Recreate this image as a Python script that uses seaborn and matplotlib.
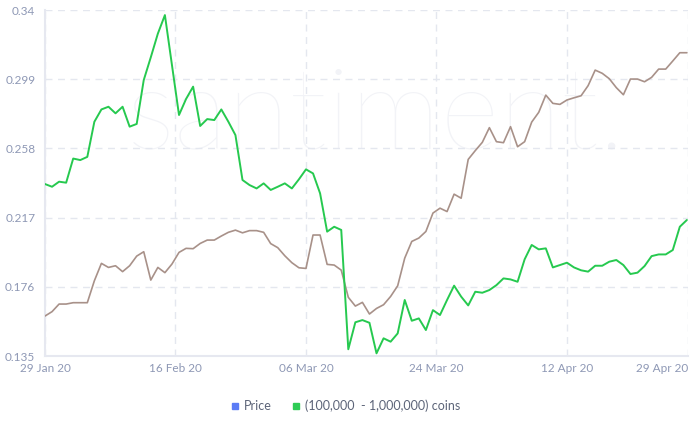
import numpy as np
import pandas as pd
import matplotlib
matplotlib.use("Agg")
import matplotlib.pyplot as plt
import matplotlib.dates as mdates
from matplotlib.lines import Line2D
import seaborn as sns

# ---------------- data ----------------
start_date = "2020-01-29"
price = [0.1587, 0.1613, 0.1658, 0.1658, 0.1666, 0.1666, 0.1666, 0.1796, 0.1899, 0.1875,
         0.1885, 0.1850, 0.1885, 0.1942, 0.1968, 0.1800, 0.1875, 0.1844, 0.1895, 0.1964,
         0.1988, 0.1986, 0.2017, 0.2037, 0.2037, 0.2061, 0.2083, 0.2096, 0.2080, 0.2093,
         0.2093, 0.2083, 0.2016, 0.1992, 0.1944, 0.1903, 0.1873, 0.1869, 0.2067, 0.2067,
         0.1893, 0.1889, 0.1859, 0.1698, 0.1646, 0.1668, 0.1599, 0.1632, 0.1654, 0.1703,
         0.1766, 0.1930, 0.2029, 0.2049, 0.2088, 0.2197, 0.2226, 0.2206, 0.2309, 0.2285,
         0.2515, 0.2567, 0.2616, 0.2703, 0.2620, 0.2614, 0.2709, 0.2590, 0.2620, 0.2736,
         0.2794, 0.2896, 0.2847, 0.2841, 0.2867, 0.2880, 0.2892, 0.2952, 0.3044, 0.3025,
         0.2993, 0.2940, 0.2898, 0.2991, 0.2991, 0.2975, 0.3001, 0.3050, 0.3050, 0.3098,
         0.3147, 0.3147]
holders = [0.2369, 0.2353, 0.2383, 0.2377, 0.2520, 0.2511, 0.2530, 0.2738, 0.2811, 0.2827,
           0.2788, 0.2827, 0.2709, 0.2725, 0.2985, 0.3120, 0.3260, 0.3370, 0.3074, 0.2778,
           0.2873, 0.2946, 0.2713, 0.2754, 0.2748, 0.2811, 0.2738, 0.2659, 0.2393, 0.2363,
           0.2343, 0.2373, 0.2334, 0.2353, 0.2373, 0.2343, 0.2397, 0.2456, 0.2432, 0.2314,
           0.2087, 0.2116, 0.2097, 0.1390, 0.1550, 0.1563, 0.1547, 0.1366, 0.1455, 0.1435,
           0.1484, 0.1682, 0.1559, 0.1573, 0.1504, 0.1622, 0.1593, 0.1682, 0.1767, 0.1702,
           0.1650, 0.1731, 0.1725, 0.1741, 0.1770, 0.1810, 0.1804, 0.1790, 0.1923, 0.2008,
           0.1982, 0.1988, 0.1875, 0.1889, 0.1903, 0.1875, 0.1858, 0.1850, 0.1885, 0.1885,
           0.1909, 0.1919, 0.1889, 0.1836, 0.1844, 0.1883, 0.1942, 0.1952, 0.1952, 0.1978,
           0.2116, 0.2156]
series_names = ["Price", "(100,000  - 1,000,000) coins"]
y_ticks = [0.135, 0.176, 0.217, 0.258, 0.299, 0.34]
y_tick_labels = ["0.135", "0.176", "0.217", "0.258", "0.299", "0.34"]
x_tick_labels = ["29 Jan 20", "16 Feb 20", "06 Mar 20", "24 Mar 20", "12 Apr 20", "29 Apr 20"]

dates = pd.date_range(start_date, periods=len(price), freq="D")
df = pd.DataFrame({
    "date": np.concatenate([dates, dates]),
    "value": price + holders,
    "series": [series_names[0]] * len(price) + [series_names[1]] * len(holders),
})

# ---------------- style ----------------
sns.set_theme(style="white")
plt.rcParams["font.family"] = ["Lato", "DejaVu Sans"]

line_colors = {series_names[0]: "#a89189", series_names[1]: "#26c94f"}
legend_colors = ["#5b7cf5", "#2ecc55"]
tick_color = "#8e98b5"
grid_color = "#e4e7ef"

fig = plt.figure(figsize=(6.9, 4.3), dpi=100)
ax = fig.add_axes([0.0652, 0.172, 0.9318, 0.8047])

ax.text(0.515, 0.69, "santiment.", transform=ax.transAxes, ha="center", va="center",
        fontsize=82, color="#f2f3f7", zorder=0, fontweight="light")

sns.lineplot(data=df, x="date", y="value", hue="series", palette=line_colors,
             hue_order=series_names, ax=ax, legend=False, linewidth=1.3, zorder=3)
for ln, lw in zip(ax.get_lines(), [1.2, 1.4]):
    ln.set_linewidth(lw)

# axes limits / ticks
x0 = mdates.date2num(dates[0])
x_end = x0 + 91.15
ax.set_xlim(x0, x_end)
ax.set_ylim(y_ticks[0], y_ticks[-1])
xt = [x0 + k * 18.5 for k in range(5)] + [x_end]
ax.set_xticks(xt)
ax.set_xticklabels(x_tick_labels)
ax.set_yticks(y_ticks)
ax.set_yticklabels(y_tick_labels)
lbls = ax.get_xticklabels()
lbls[-1].set_horizontalalignment("right")
ax.tick_params(axis="both", length=0, labelsize=8.5, labelcolor=tick_color)
ax.tick_params(axis="x", pad=5)
ax.tick_params(axis="y", pad=7)

ax.grid(True, axis="both", color=grid_color, linestyle=(0, (5, 4)), linewidth=1.0, zorder=1)
for side in ["top", "right"]:
    ax.spines[side].set_visible(False)
for side in ["left", "bottom"]:
    ax.spines[side].set_color("#e6e8f0")
    ax.spines[side].set_linewidth(1.5)
ax.set_xlabel("")
ax.set_ylabel("")

handles = [Line2D([0], [0], marker="s", linestyle="none", markersize=5,
                  markerfacecolor=c, markeredgecolor=c) for c in legend_colors]
fig.legend(handles, series_names, loc="center", bbox_to_anchor=(0.5, 0.056), ncol=2,
           frameon=False, fontsize=9, handletextpad=0.3, columnspacing=1.6,
           labelcolor="#5c6478", handlelength=0.8)

fig.savefig("out.png", dpi=100, facecolor="white")
